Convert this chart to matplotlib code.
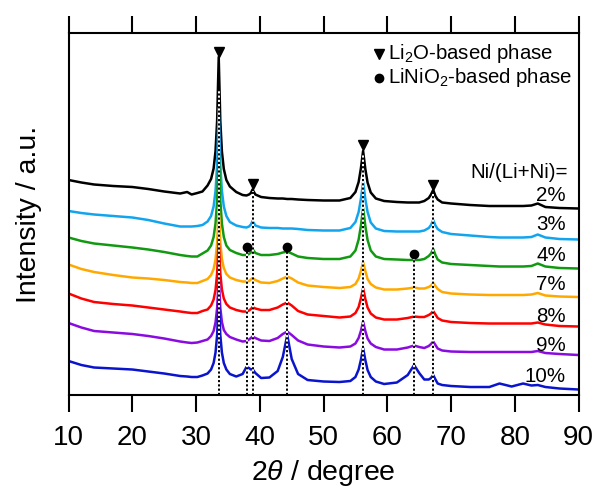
import matplotlib
matplotlib.use("Agg")
import matplotlib.pyplot as plt

plt.rcParams['font.family'] = ['Liberation Sans', 'DejaVu Sans']
plt.rcParams['mathtext.fontset'] = 'custom'
plt.rcParams['mathtext.rm'] = 'Liberation Sans'
plt.rcParams['mathtext.it'] = 'Liberation Sans:italic'

# 2theta grid (degree) and intensities (a.u., offset patterns)
two_theta = [10, 12, 14, 17, 20, 22.5, 25, 27.5, 28.6, 29.3, 30.2,
             31.0, 31.8, 32.35, 32.75, 33.05, 33.3, 33.55, 33.8, 34.05, 34.35, 34.75, 35.3, 36.3,
             37.3, 37.9, 38.3, 38.6, 38.85, 39.3, 40.2, 41.5, 42.8, 43.6, 44.3, 45.0, 46.0,
             47.5, 50, 52.5, 54.2, 55.0, 55.5, 55.85, 56.2, 56.55, 56.9, 57.4, 58.2,
             59.5, 61.5, 63.2, 64.2, 65.0, 65.8, 66.5, 66.85, 67.2, 67.55, 67.9, 68.6,
             70, 73, 76, 77.6, 79.5, 81.3, 82.6, 83.6, 84.8, 87, 90]

i_2 = [215, 212.5, 210.5, 209, 208, 206, 203.5, 201.5, 203, 200.5, 202,
       203.5, 209.5, 216, 226.5, 244, 274, 338, 274, 243.5, 226, 215, 208.5, 203,
       200, 199.5, 200.5, 202, 205.5, 200.5, 198, 197, 196.5, 196.5, 196, 196, 195.5,
       195, 194.5, 194.5, 197, 203, 213, 226.5, 244, 226, 212.5, 202.5, 196.5,
       194, 193, 192.5, 192.5, 192.5, 194, 197, 200.5, 205, 199, 195.5, 192.5,
       191.5, 190, 189, 189, 189, 189, 189.5, 191.5, 188, 187, 186.5]

i_3 = [184, 182, 180.5, 179, 177.5, 175, 171.5, 168.5, 168.5, 168.5, 169,
       170, 173.5, 179, 188.5, 204, 230, 287, 230, 204, 188.5, 179, 173, 169.5,
       168, 167.5, 168.5, 170.5, 174, 169.5, 167.5, 167, 167, 166.5, 166.5, 166.5, 166,
       165, 164.5, 164.5, 167, 173, 183, 196, 213, 196, 183, 172.5, 166.5,
       164, 163.5, 163.5, 163.5, 163.5, 164.5, 167, 170, 175, 169.5, 166, 163,
       161, 159.5, 158, 157.5, 157.5, 157.5, 158, 160.5, 157.5, 156, 155.5]

i_4 = [157.5, 154, 151.5, 149.5, 147.5, 145.5, 143, 140, 139, 138.5, 138.5,
       141.5, 144.5, 149.5, 158, 171.5, 194.5, 245, 194.5, 171.5, 158, 149.5, 145, 142,
       140, 140, 141, 142.5, 146, 142, 140, 140, 141, 142.5, 143.5, 141.5, 138.5,
       137, 136, 136, 138.5, 144.5, 155.5, 169, 187, 169, 155, 144.5, 138.5,
       136, 135.5, 135, 135, 135, 136, 139, 141.5, 146, 140, 135.5, 132.5,
       131, 130, 129, 128.5, 128.5, 128.5, 129, 131.5, 128.5, 127, 126.5]

i_7 = [130.5, 126, 123, 120, 117.5, 116.5, 115, 113, 112.5, 112, 112,
       114, 116, 120, 126, 135.5, 152, 188, 152, 136, 127, 121, 117.5, 115,
       113.5, 113.5, 114, 115.5, 117, 115, 112.5, 112, 114, 116.5, 118.5, 116.5, 112.5,
       109.5, 108, 107, 108, 111, 116.5, 124, 133, 124, 116, 111, 107.5,
       105.5, 105.5, 106.5, 107.5, 106.5, 106.5, 108, 109.5, 112, 109, 106, 103,
       101.5, 100.5, 100, 100, 100, 100, 100.5, 102, 99.5, 98.5, 98]

i_8 = [101.5, 96.5, 93, 91, 89.5, 87.5, 85.5, 83.5, 82.5, 82, 82,
       84, 85.5, 89.5, 95.5, 105, 121.5, 157, 121.5, 105.5, 96.5, 91, 87.5, 85,
       83.5, 83.5, 84.5, 86, 88, 86.5, 85, 85, 87.5, 90.5, 92.5, 89.5, 84,
       80.5, 79, 77.5, 78.5, 82, 88, 96.5, 107, 96, 87.5, 81.5, 77.5,
       75.5, 75.5, 77, 78.5, 78, 78, 80, 81.5, 84, 80.5, 77, 74.5,
       73, 72, 71.5, 71.5, 71.5, 71.5, 71.5, 72.5, 70.5, 69, 68.5]

i_9 = [72, 67.5, 64, 62.5, 61, 59, 56.5, 53.5, 52.5, 52, 52.5,
       54, 55.5, 59, 64, 72.5, 87, 118, 87, 73, 65, 61, 58, 55.5,
       53.5, 54, 55.5, 57, 58.5, 57, 54.5, 54, 57, 61, 63.5, 60, 54.5,
       50.5, 48.5, 47.5, 48.5, 51.5, 57, 64, 73.5, 64, 56.5, 51.5, 48,
       45.5, 45.5, 47.5, 49.5, 48, 47, 49, 51, 53.5, 50, 46.5, 44.5,
       43.5, 43, 43, 43, 43, 43, 43, 44, 42, 41, 40]

i_10 = [34, 30, 27.5, 26.5, 25.5, 23.5, 21.5, 19, 18.5, 18, 18,
        19.5, 21.5, 25.5, 32, 42.5, 60, 98, 60, 42.5, 32, 25.5, 21, 18.5,
        21, 28, 27, 25.5, 26, 22, 17, 17.5, 24, 38, 60, 36, 21,
        15, 13.5, 13, 14, 18, 25.5, 35, 47, 35, 25, 18, 13.5,
        11, 12.5, 20, 30, 22, 15.5, 15.5, 17, 20, 15.5, 11.5, 10,
        9, 8, 8, 11.5, 8.5, 11.5, 9.5, 10, 8, 6.5, 5.5]

patterns = [i_2, i_3, i_4, i_7, i_8, i_9, i_10]
labels = ['2%', '3%', '4%', '7%', '8%', '9%', '10%']
label_y = [200, 171, 140, 111, 79, 50, 18.5]
colors = ['#000000', '#12A5EE', '#119A11', '#FFA900', '#FF0000', '#8A0BE0', '#0A14CC']

# reflection positions and where the guide lines start
li2o_pos = [33.55, 38.85, 56.2, 67.15]
li2o_top = [305, 204, 240, 203]
li2o_mark = [343, 211.5, 250, 210]
linio2_pos = [38.0, 44.3, 64.2]
linio2_mark = [148, 148, 141]

for y in patterns:
    assert len(y) == len(two_theta)

fig = plt.figure(figsize=(5.98, 4.91), dpi=100)
ax = fig.add_axes([0.1147, 0.1955, 0.8528, 0.7373])

for y, c in zip(patterns, colors):
    ax.plot(two_theta, y, color=c, lw=1.8, solid_joinstyle='round', zorder=2)

for xp, top in zip(li2o_pos + linio2_pos, li2o_top + [m - 4 for m in linio2_mark]):
    ax.plot([xp, xp], [0, top], color='white', lw=1.4, zorder=3, solid_capstyle='butt')
    ax.plot([xp, xp], [0, top], color='black', lw=1.4, dashes=(1.1, 1.1), zorder=4)

ax.plot(li2o_pos, li2o_mark, 'v', color='black', ms=7.5, zorder=5)
ax.plot(linio2_pos, linio2_mark, 'o', color='black', ms=6, zorder=5)

# legend-like annotations
ax.plot([58.75], [341], 'v', color='black', ms=7.5)
ax.plot([58.75], [317], 'o', color='black', ms=6)
ax.text(60.1, 341, 'Li$_2$O-based phase', fontsize=14.7, va='center', ha='left')
ax.text(60.1, 317, 'LiNiO$_2$-based phase', fontsize=14.7, va='center', ha='left')

ax.text(88.4, 222.5, 'Ni/(Li+Ni)=', fontsize=14.8, va='center', ha='right')
for lab, ly in zip(labels, label_y):
    ax.text(88.0, ly, lab, fontsize=14.8, va='center', ha='right')

ax.set_xlim(10, 90)
ax.set_ylim(0, 362)
ax.set_xticks(range(10, 91, 10))
ax.set_yticks([])
ax.tick_params(axis='x', top=True, bottom=True, direction='out', length=12.5,
               width=1.5, labelsize=20, pad=9)
for s in ax.spines.values():
    s.set_linewidth(1.5)

ax.set_xlabel('2$\\theta$ / degree', fontsize=20.5, labelpad=5)
ax.set_ylabel('Intensity / a.u.', fontsize=20.5, labelpad=19)

fig.savefig('out.png', dpi=100)
